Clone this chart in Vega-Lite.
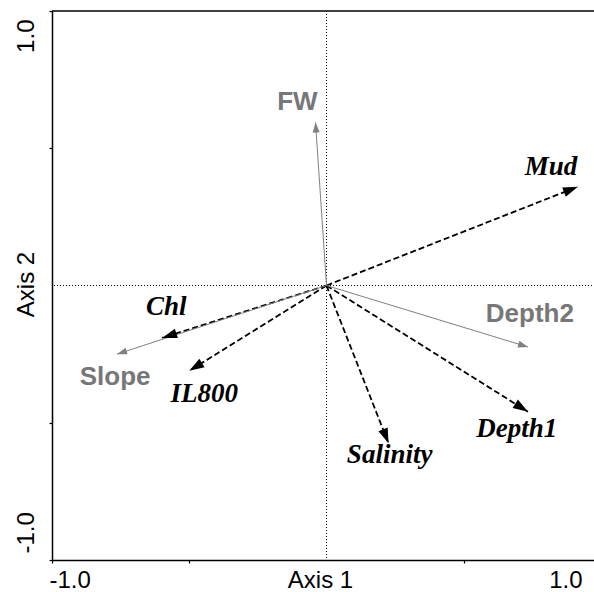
{
  "$schema": "https://vega.github.io/schema/vega-lite/v6.json",
  "width": 549,
  "height": 549,
  "autosize": "none",
  "padding": {"left": 52, "top": 11, "right": -7, "bottom": 32},
  "background": "#ffffff",
  "config": {
    "view": {"stroke": null},
    "axis": {"grid": false, "domainColor": "#000000", "domainWidth": 1.5, "tickColor": "#000000", "tickWidth": 1.2, "tickSize": 3,
      "labelFont": "Liberation Sans", "labelFontSize": 24, "labelColor": "#000000",
      "titleFont": "Liberation Sans", "titleFontSize": 24, "titleFontWeight": "normal", "titleColor": "#000000"}
  },
  "datasets": {
    "vec": [
      {"name": "Mud", "type": "env", "x0": 0, "y0": 0, "x": 0.916, "y": 0.360, "lx": 0.818, "ly": 0.404},
      {"name": "Chl", "type": "env", "x0": 0, "y0": 0, "x": -0.599, "y": -0.191, "lx": -0.584, "ly": -0.107},
      {"name": "IL800", "type": "env", "x0": 0, "y0": 0, "x": -0.5, "y": -0.311, "lx": -0.445, "ly": -0.424},
      {"name": "Salinity", "type": "env", "x0": 0, "y0": 0, "x": 0.226, "y": -0.575, "lx": 0.230, "ly": -0.647},
      {"name": "Depth1", "type": "env", "x0": 0, "y0": 0, "x": 0.734, "y": -0.46, "lx": 0.693, "ly": -0.552},
      {"name": "FW", "type": "other", "x0": 0, "y0": 0, "x": -0.04, "y": 0.594, "lx": -0.106, "ly": 0.641},
      {"name": "Slope", "type": "other", "x0": 0, "y0": 0, "x": -0.763, "y": -0.25, "lx": -0.770, "ly": -0.362},
      {"name": "Depth2", "type": "other", "x0": 0, "y0": 0, "x": 0.734, "y": -0.224, "lx": 0.741, "ly": -0.132}
    ]
  },
  "layer": [
    {
      "data": {"name": "vec"},
      "transform": [{"filter": "datum.type == 'env'"}],
      "mark": {"type": "rule", "color": "#000000", "strokeWidth": 1.8, "strokeDash": [6, 3]},
      "encoding": {
        "x": {"field": "x0", "type": "quantitative", "scale": {"domain": [-1, 1], "nice": false, "zero": false},
          "axis": {"title": "Axis 1", "values": [-1, -0.5, 0.5, 1],
            "labelExpr": "datum.value == -1 ? '-1.0' : (datum.value == 1 ? '1.0' : '')",
            "labelBaseline": "alphabetic", "labelPadding": 24,
            "labelAlign": {"condition": {"test": "datum.value < 0", "value": "left"}, "value": "right"},
            "labelOffset": {"condition": {"test": "datum.value < 0", "value": -3}, "value": -19},
            "titleBaseline": "alphabetic", "titleX": 268, "titleY": 27}},
        "y": {"field": "y0", "type": "quantitative", "scale": {"domain": [-1, 1], "nice": false, "zero": false},
          "axis": {"title": "Axis 2", "values": [-1, -0.5, 0.5, 1],
            "labelExpr": "datum.value == -1 ? '-1.0' : (datum.value == 1 ? '1.0' : '')",
            "labelAngle": -90, "labelBaseline": "alphabetic", "labelPadding": 16,
            "labelAlign": {"condition": {"test": "datum.value > 0", "value": "right"}, "value": "left"},
            "labelOffset": {"condition": {"test": "datum.value > 0", "value": 8}, "value": -7},
            "titleAngle": -90, "titleBaseline": "alphabetic", "titleX": -19, "titleY": 273}},
        "x2": {"field": "x"},
        "y2": {"field": "y"}
      }
    },
    {
      "data": {"values": [{"v": 1}]},
      "mark": {"type": "rule", "color": "#000000", "strokeWidth": 1.5},
      "encoding": {"y": {"field": "v", "type": "quantitative"}}
    },
    {
      "data": {"values": [{"v": 0}]},
      "mark": {"type": "rule", "color": "#000000", "strokeWidth": 1, "strokeDash": [1, 2]},
      "encoding": {"x": {"field": "v", "type": "quantitative"}}
    },
    {
      "data": {"values": [{"v": 0}]},
      "mark": {"type": "rule", "color": "#000000", "strokeWidth": 1, "strokeDash": [1, 2]},
      "encoding": {"y": {"field": "v", "type": "quantitative"}}
    },
    {
      "data": {"name": "vec"},
      "transform": [{"filter": "datum.type == 'other'"}],
      "mark": {"type": "rule", "color": "#808080", "strokeWidth": 1},
      "encoding": {
        "x": {"field": "x0", "type": "quantitative"},
        "y": {"field": "y0", "type": "quantitative"},
        "x2": {"field": "x"},
        "y2": {"field": "y"}
      }
    },
    {
      "data": {"name": "vec"},
      "transform": [{"filter": "datum.type == 'other'"}, {"calculate": "atan2(datum.x, datum.y) * 180 / PI", "as": "ang"}],
      "mark": {"type": "point", "shape": "M0,0L0.35,1L-0.35,1Z", "filled": true, "color": "#808080", "opacity": 1, "size": 400},
      "encoding": {
        "x": {"field": "x", "type": "quantitative"},
        "y": {"field": "y", "type": "quantitative"},
        "angle": {"field": "ang", "type": "quantitative", "scale": null}
      }
    },
    {
      "data": {"name": "vec"},
      "transform": [{"filter": "datum.type == 'env'"}, {"calculate": "atan2(datum.x, datum.y) * 180 / PI", "as": "ang"}],
      "mark": {"type": "point", "shape": "M0,0L0.33,1L-0.33,1Z", "filled": true, "color": "#000000", "opacity": 1, "size": 900},
      "encoding": {
        "x": {"field": "x", "type": "quantitative"},
        "y": {"field": "y", "type": "quantitative"},
        "angle": {"field": "ang", "type": "quantitative", "scale": null}
      }
    },
    {
      "data": {"name": "vec"},
      "transform": [{"filter": "datum.type == 'other'"}],
      "mark": {"type": "text", "font": "Liberation Sans", "fontWeight": "bold", "fontSize": 26, "color": "#777777", "align": "center", "baseline": "alphabetic"},
      "encoding": {
        "x": {"field": "lx", "type": "quantitative"},
        "y": {"field": "ly", "type": "quantitative"},
        "text": {"field": "name", "type": "nominal"}
      }
    },
    {
      "data": {"name": "vec"},
      "transform": [{"filter": "datum.type == 'env'"}],
      "mark": {"type": "text", "font": "Liberation Serif", "fontWeight": "bold", "fontStyle": "italic", "fontSize": 27, "color": "#000000", "align": "center", "baseline": "alphabetic"},
      "encoding": {
        "x": {"field": "lx", "type": "quantitative"},
        "y": {"field": "ly", "type": "quantitative"},
        "text": {"field": "name", "type": "nominal"}
      }
    }
  ]
}
